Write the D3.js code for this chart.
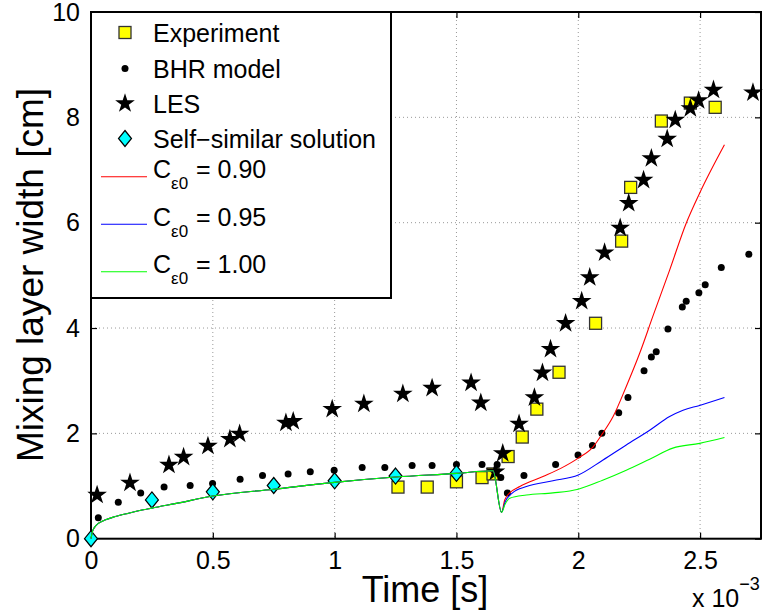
<!DOCTYPE html>
<html>
<head>
<meta charset="utf-8">
<title>Mixing layer width</title>
<script src="https://d3js.org/d3.v7.min.js"></script>
<style>
  body { margin: 0; background: #fff; }
  svg { font-family: "Liberation Sans", Arial, Helvetica, sans-serif; }
</style>
</head>
<body>
<div id="chart"></div>
<script>
// time values are in units of 1e-3 s (axis shows the x 10^-3 multiplier)
const xTicks = [0, 0.5, 1, 1.5, 2, 2.5];
const yTicks = [0, 2, 4, 6, 8, 10];

// Experiment
const expT = [1.26, 1.38, 1.50, 1.605, 1.65, 1.712, 1.77, 1.83, 1.921, 2.071, 2.178, 2.215, 2.341, 2.46, 2.562];
const expW = [0.98, 0.98, 1.08, 1.16, 1.23, 1.56, 1.93, 2.46, 3.16, 4.09, 5.65, 6.67, 7.93, 8.27, 8.19];

// BHR model
const bhrT = [0.03, 0.112, 0.204, 0.30, 0.407, 0.499, 0.612, 0.704, 0.809, 0.90, 0.998, 1.113, 1.206, 1.318, 1.40, 1.50, 1.605, 1.667, 1.682, 1.709, 1.777, 1.907, 1.999, 2.058, 2.097, 2.166, 2.204, 2.27, 2.30, 2.32, 2.368, 2.427, 2.443, 2.495, 2.521, 2.587, 2.70];
const bhrW = [0.40, 0.69, 0.87, 0.98, 1.01, 1.05, 1.13, 1.20, 1.23, 1.27, 1.30, 1.35, 1.35, 1.39, 1.39, 1.41, 1.41, 1.41, 1.16, 0.87, 1.20, 1.41, 1.59, 1.77, 2.00, 2.39, 2.68, 3.19, 3.45, 3.55, 3.98, 4.40, 4.51, 4.67, 4.82, 5.15, 5.40];

// LES
const lesT = [0.025, 0.16, 0.32, 0.38, 0.48, 0.57, 0.61, 0.80, 0.83, 0.99, 1.12, 1.28, 1.40, 1.56, 1.60, 1.66, 1.69, 1.757, 1.82, 1.853, 1.886, 1.948, 2.014, 2.047, 2.108, 2.172, 2.207, 2.268, 2.30, 2.365, 2.398, 2.46, 2.494, 2.555, 2.717];
const lesW = [0.83, 1.06, 1.40, 1.55, 1.76, 1.89, 1.99, 2.20, 2.23, 2.46, 2.56, 2.75, 2.86, 2.96, 2.58, 1.27, 1.62, 2.18, 2.68, 3.15, 3.60, 4.09, 4.51, 4.96, 5.43, 5.90, 6.37, 6.81, 7.22, 7.59, 7.95, 8.17, 8.32, 8.52, 8.47];

// Self-similar solution
const ssT = [0, 0.25, 0.5, 0.75, 1.0, 1.25, 1.5];
const ssW = [0, 0.735, 0.89, 1.01, 1.10, 1.19, 1.24];

// model curves: common part before reshock, then one branch per C_eps0
const earlyT = [0, 0.005, 0.015, 0.03, 0.06, 0.1, 0.15, 0.25, 0.35, 0.5, 0.75, 1.0, 1.25, 1.5, 1.65, 1.685];
const earlyW = [0, 0.12, 0.22, 0.29, 0.36, 0.42, 0.48, 0.58, 0.67, 0.81, 0.94, 1.07, 1.17, 1.24, 1.29, 0.50];
const redT = [1.698, 1.719, 1.76, 1.855, 1.93, 2.0, 2.06, 2.10, 2.143, 2.197, 2.252, 2.306, 2.375, 2.443, 2.498, 2.6];
const redW = [0.735, 0.87, 0.99, 1.18, 1.34, 1.53, 1.74, 2.0, 2.32, 2.89, 3.52, 4.22, 5.10, 5.99, 6.56, 7.48];
const blueT = [1.70, 1.73, 1.787, 1.896, 2.0, 2.10, 2.197, 2.293, 2.375, 2.43, 2.498, 2.6];
const blueW = [0.70, 0.87, 0.99, 1.10, 1.21, 1.49, 1.78, 2.06, 2.32, 2.44, 2.53, 2.68];
const greenT = [1.70, 1.719, 1.787, 1.896, 2.0, 2.10, 2.197, 2.293, 2.388, 2.498, 2.6];
const greenW = [0.66, 0.77, 0.83, 0.87, 0.94, 1.11, 1.30, 1.51, 1.72, 1.81, 1.92];

const curveNames = ["0.90", "0.95", "1.00"];
const curveColors = ["#ff0000", "#0000ff", "#00ff00"];

var width = 763, height = 613;
var plot = {left: 91, right: 761, top: 12, bottom: 538.7};

const svg = d3.select("#chart").append("svg")
  .attr("width", width)
  .attr("height", height);

const x = d3.scaleLinear().domain([0, 2.75]).range([plot.left, plot.right]);
const y = d3.scaleLinear().domain([0, 10]).range([plot.bottom, plot.top]);

// grid
svg.append("g").selectAll("line")
  .data(xTicks.filter(d => d > 0))
  .join("line")
  .attr("x1", d => x(d)).attr("x2", d => x(d))
  .attr("y1", plot.top).attr("y2", plot.bottom)
  .attr("stroke", "#999").attr("stroke-width", 1).attr("stroke-dasharray", "1,3");
svg.append("g").selectAll("line")
  .data(yTicks.filter(d => d > 0 && d < 10))
  .join("line")
  .attr("x1", plot.left).attr("x2", plot.right)
  .attr("y1", d => y(d)).attr("y2", d => y(d))
  .attr("stroke", "#999").attr("stroke-width", 1).attr("stroke-dasharray", "1,3");

// axes (ticks inward, box on all sides)
const tickLen = 6;
svg.append("g").attr("transform", `translate(0,${plot.bottom})`)
  .call(d3.axisBottom(x).tickValues(xTicks).tickSize(-tickLen).tickPadding(13).tickFormat(d3.format("")))
  .call(g => g.select(".domain").remove());
svg.append("g").attr("transform", `translate(0,${plot.top})`)
  .call(d3.axisTop(x).tickValues(xTicks).tickSize(-tickLen).tickFormat(""))
  .call(g => g.select(".domain").remove());
svg.append("g").attr("transform", `translate(${plot.left},0)`)
  .call(d3.axisLeft(y).tickValues(yTicks).tickSize(-tickLen).tickPadding(11))
  .call(g => g.select(".domain").remove());
svg.append("g").attr("transform", `translate(${plot.right},0)`)
  .call(d3.axisRight(y).tickValues(yTicks).tickSize(-tickLen).tickFormat(""))
  .call(g => g.select(".domain").remove());
svg.selectAll(".tick text")
  .attr("font-family", "Liberation Sans, Arial, sans-serif")
  .attr("font-size", 25)
  .attr("fill", "#000");
svg.selectAll(".tick line").attr("stroke", "#000").attr("stroke-width", 1.2);

svg.append("rect")
  .attr("x", plot.left).attr("y", plot.top)
  .attr("width", plot.right - plot.left).attr("height", plot.bottom - plot.top)
  .attr("fill", "none").attr("stroke", "#000").attr("stroke-width", 2);

// axis labels
svg.append("text")
  .attr("x", 425).attr("y", 602)
  .attr("text-anchor", "middle")
  .attr("font-size", 36)
  .text("Time [s]");
svg.append("text")
  .attr("transform", "translate(43,275) rotate(-90)")
  .attr("text-anchor", "middle")
  .attr("font-size", 37)
  .text("Mixing layer width [cm]");
const mult = svg.append("text").attr("x", 692).attr("y", 607).attr("font-size", 25);
mult.append("tspan").text("x 10");
mult.append("tspan").attr("dy", -17).attr("font-size", 18).text("\u22123");

// experiment squares
const expData = expT.map((t, i) => [t, expW[i]]);
svg.append("g").selectAll("rect")
  .data(expData)
  .join("rect")
  .attr("x", d => x(d[0]) - 6).attr("y", d => y(d[1]) - 6)
  .attr("width", 12).attr("height", 12)
  .attr("fill", "#ffff00").attr("stroke", "#333").attr("stroke-width", 1.3);

// BHR dots
const bhrData = bhrT.map((t, i) => [t, bhrW[i]]);
svg.append("g").selectAll("circle")
  .data(bhrData)
  .join("circle")
  .attr("cx", d => x(d[0])).attr("cy", d => y(d[1]))
  .attr("r", 3.5).attr("fill", "#000");

// LES stars
const star = d3.symbol().type(d3.symbolStar).size(120);
const lesData = lesT.map((t, i) => [t, lesW[i]]);
svg.append("g").selectAll("path")
  .data(lesData)
  .join("path")
  .attr("transform", d => `translate(${x(d[0])},${y(d[1])})`)
  .attr("d", star).attr("fill", "#000");

// self-similar diamonds
const diamond = "M0,-8L6.5,0L0,8L-6.5,0Z";
const ssData = ssT.map((t, i) => [t, ssW[i]]);
svg.append("g").selectAll("path")
  .data(ssData)
  .join("path")
  .attr("transform", d => `translate(${x(d[0])},${y(d[1])})`)
  .attr("d", diamond)
  .attr("fill", "#00ffff").attr("stroke", "#000").attr("stroke-width", 1.2);

// model curves
const line = d3.line().x(d => x(d[0])).y(d => y(d[1])).curve(d3.curveMonotoneX);
const early = earlyT.map((t, i) => [t, earlyW[i]]);
const branches = [[redT, redW], [blueT, blueW], [greenT, greenW]];
branches.forEach((b, k) => {
  const pts = early.concat(b[0].map((t, i) => [t, b[1][i]]));
  svg.append("path")
    .datum(pts)
    .attr("d", line)
    .attr("fill", "none")
    .attr("stroke", curveColors[k])
    .attr("stroke-width", 1.1);
});

// legend
const legend = svg.append("g");
legend.append("rect")
  .attr("x", plot.left).attr("y", plot.top)
  .attr("width", 300).attr("height", 286)
  .attr("fill", "#fff").attr("stroke", "#000").attr("stroke-width", 2);

const markerRows = [
  {label: "Experiment", y: 32.5},
  {label: "BHR model", y: 68.5},
  {label: "LES", y: 103.5},
  {label: "Self\u2212similar solution", y: 138.5}
];
markerRows.forEach(r => {
  legend.append("text").attr("x", 153).attr("y", r.y + 9)
    .attr("font-size", 25).text(r.label);
});
legend.append("rect").attr("x", 119).attr("y", 26.5).attr("width", 12).attr("height", 12)
  .attr("fill", "#ffff00").attr("stroke", "#333").attr("stroke-width", 1.3);
legend.append("circle").attr("cx", 125).attr("cy", 68.5).attr("r", 3.5).attr("fill", "#000");
legend.append("path").attr("transform", "translate(125,103.5)").attr("d", star).attr("fill", "#000");
legend.append("path").attr("transform", "translate(125,138.5)").attr("d", diamond)
  .attr("fill", "#00ffff").attr("stroke", "#000").attr("stroke-width", 1.2);

curveNames.forEach((name, k) => {
  const ly = 176.7 + k * 47.5;
  legend.append("line").attr("x1", 101).attr("x2", 147)
    .attr("y1", ly).attr("y2", ly)
    .attr("stroke", curveColors[k]).attr("stroke-width", 1.1);
  const t = legend.append("text").attr("x", 153).attr("y", ly + 1.5).attr("font-size", 25);
  t.append("tspan").text("C");
  t.append("tspan").attr("dy", 11).attr("font-size", 17).text("\u03b50");
  t.append("tspan").attr("x", 196).attr("dy", -11).text("= " + name);
});
</script>
</body>
</html>
